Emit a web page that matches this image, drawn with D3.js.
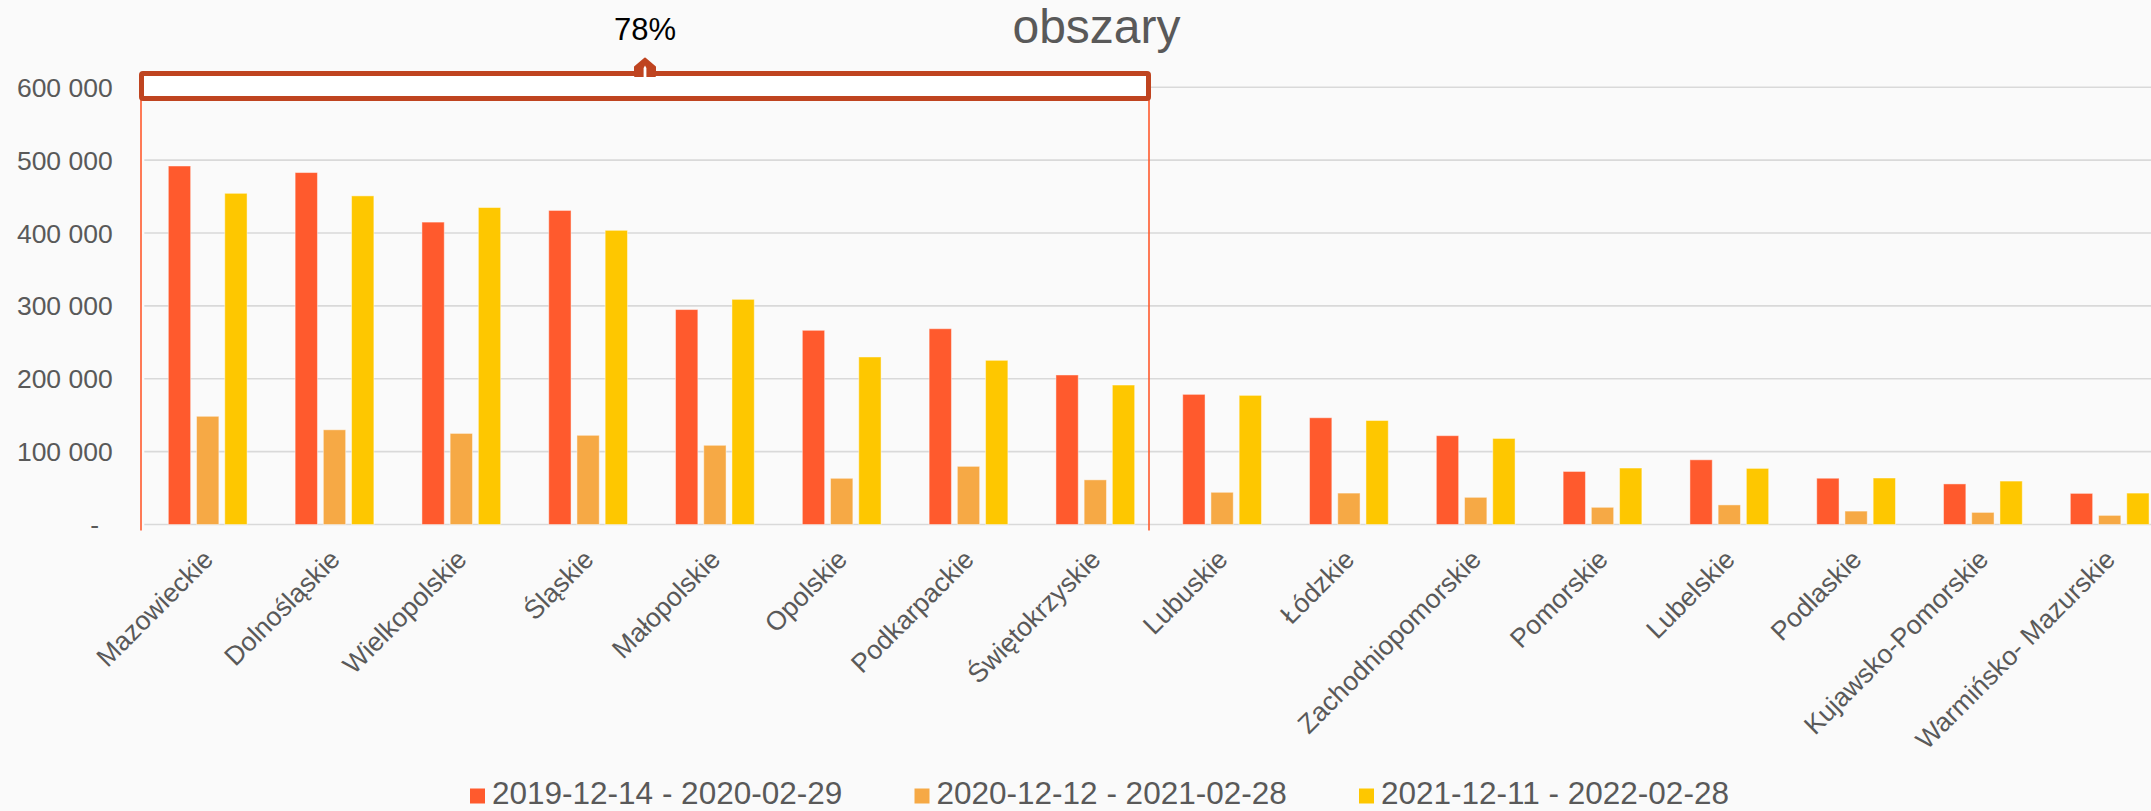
<!DOCTYPE html>
<html>
<head>
<meta charset="utf-8">
<script src="https://cdn.jsdelivr.net/npm/d3@7"></script>
<style>
  html, body { margin: 0; padding: 0; background: #fafafa; }
  svg { display: block; }
  text { font-family: "Liberation Sans", Arial, sans-serif; }
</style>
</head>
<body>
<svg id="chart" width="2151" height="811"></svg>
<script>
// ---- data ----
const categories = ["Mazowieckie", "Dolnośląskie", "Wielkopolskie", "Śląskie", "Małopolskie", "Opolskie", "Podkarpackie", "Świętokrzyskie", "Lubuskie", "Łódzkie", "Zachodniopomorskie", "Pomorskie", "Lubelskie", "Podlaskie", "Kujawsko-Pomorskie", "Warmińsko- Mazurskie"];
const seriesNames = ["2019-12-14 - 2020-02-29", "2020-12-12 - 2021-02-28", "2021-12-11 - 2022-02-28"];
const season2019 = [492000, 483000, 415000, 431000, 295000, 266500, 268700, 205200, 178600, 146500, 121900, 72800, 88800, 63500, 55700, 42700];
const season2020 = [148500, 130000, 125000, 122400, 108700, 63400, 79800, 61300, 44200, 43100, 37300, 23600, 26900, 18400, 16600, 12500];
const season2021 = [454500, 451000, 435000, 403700, 309000, 229900, 225300, 191400, 177200, 142700, 118100, 77500, 77000, 63800, 59600, 43100];
const yTicks = [0, 100000, 200000, 300000, 400000, 500000, 600000];
const yTickLabels = ["-", "100 000", "200 000", "300 000", "400 000", "500 000", "600 000"];
const titleText = "obszary";
const annotationLabel = "78%";
const annotationFirst = 0, annotationLast = 7;

const colors = ["#ff5a2d", "#f6a945", "#fec700"];
const seriesValues = [season2019, season2020, season2021];

// ---- layout ----
const svg = d3.select("#chart");
const plotLeft = 144.3, step = 126.8;
const x0 = d3.scaleBand().domain(categories)
  .range([plotLeft, plotLeft + step * categories.length])
  .paddingInner(0.379).paddingOuter(0.1895);
const x1 = d3.scaleBand().domain(d3.range(seriesNames.length))
  .range([0, x0.bandwidth()]).paddingInner(0.209);
const y = d3.scaleLinear().domain([0, 600000]).range([524.5, 87.3]);

// gridlines
svg.append("g").selectAll("line").data(yTicks).join("line")
  .attr("x1", plotLeft).attr("x2", 2151)
  .attr("y1", d => y(d)).attr("y2", d => y(d))
  .attr("stroke", "#d9d9d9").attr("stroke-width", 1.6);

// y labels
svg.append("g").selectAll("text").data(yTicks).join("text")
  .attr("x", (d, i) => d === 0 ? 99 : 112.7)
  .attr("y", d => y(d))
  .attr("dy", "0.36em")
  .attr("text-anchor", "end")
  .attr("fill", "#595959")
  .attr("font-size", 26.5)
  .text((d, i) => yTickLabels[i]);

// bars
const groups = svg.append("g").selectAll("g").data(categories).join("g")
  .attr("transform", d => `translate(${x0(d)},0)`);
groups.selectAll("rect").data((d, ci) => seriesValues.map((s, si) => ({si, v: s[ci]})))
  .join("rect")
  .attr("x", d => x1(d.si))
  .attr("width", x1.bandwidth())
  .attr("y", d => y(d.v))
  .attr("height", d => y(0) - y(d.v))
  .attr("fill", d => colors[d.si])
  .attr("stroke", "rgba(255,255,255,0.45)")
  .attr("stroke-width", 1);

// category labels
svg.append("g").selectAll("text").data(categories).join("text")
  .attr("transform", d => `translate(${x0(d) + x0.bandwidth() / 2 + 7},561) rotate(-45)`)
  .attr("text-anchor", "end")
  .attr("fill", "#595959")
  .attr("font-size", 26.5)
  .text(d => d);

// annotation bracket
const annLeft = x0(categories[annotationFirst]) - x0.step() * 0.1895 - 3.3;
const annRight = x0(categories[annotationLast + 1]) - x0.step() * 0.1895 - 9.7;
const annColor = "#ff5a2d";
svg.append("line").attr("x1", annLeft).attr("x2", annLeft).attr("y1", 98).attr("y2", 530.5)
  .attr("stroke", annColor).attr("stroke-width", 1.6);
svg.append("line").attr("x1", annRight).attr("x2", annRight).attr("y1", 98).attr("y2", 530.5)
  .attr("stroke", annColor).attr("stroke-width", 1.6);
const boxColor = "#bf4420";
const midX = (annLeft + annRight) / 2;
svg.append("rect")
  .attr("x", annLeft + 0.5).attr("y", 73.5)
  .attr("width", annRight - annLeft - 1).attr("height", 25)
  .attr("rx", 1.5)
  .attr("fill", "#ffffff").attr("stroke", boxColor).attr("stroke-width", 5);
// caret on top
svg.append("path")
  .attr("d", `M${midX - 10},76 L${midX - 10},67 L${midX},58.5 L${midX + 10},67 L${midX + 10},76 Z`)
  .attr("fill", boxColor).attr("stroke", boxColor).attr("stroke-width", 2).attr("stroke-linejoin", "round");
svg.append("path")
  .attr("d", `M${midX - 1.4},77 L${midX - 1.4},68 L${midX},65.5 L${midX + 1.4},68 L${midX + 1.4},77 Z`)
  .attr("fill", "#ffffff");
svg.append("text")
  .attr("x", midX).attr("y", 39.5)
  .attr("text-anchor", "middle")
  .attr("fill", "#000000")
  .attr("font-size", 31)
  .text(annotationLabel);

// title
svg.append("text")
  .attr("x", 1096.5).attr("y", 43.3)
  .attr("text-anchor", "middle")
  .attr("fill", "#595959")
  .attr("font-size", 48)
  .text(titleText);

// legend
const legend = svg.append("g").selectAll("g").data(seriesNames).join("g")
  .attr("transform", (d, i) => `translate(${470 + i * 444.5},0)`);
legend.append("rect").attr("x", 0).attr("y", 788.5).attr("width", 15).attr("height", 15)
  .attr("fill", (d, i) => colors[i]);
legend.append("text").attr("x", 22).attr("y", 804)
  .attr("fill", "#595959").attr("font-size", 31.5)
  .text(d => d);
</script>
</body>
</html>
